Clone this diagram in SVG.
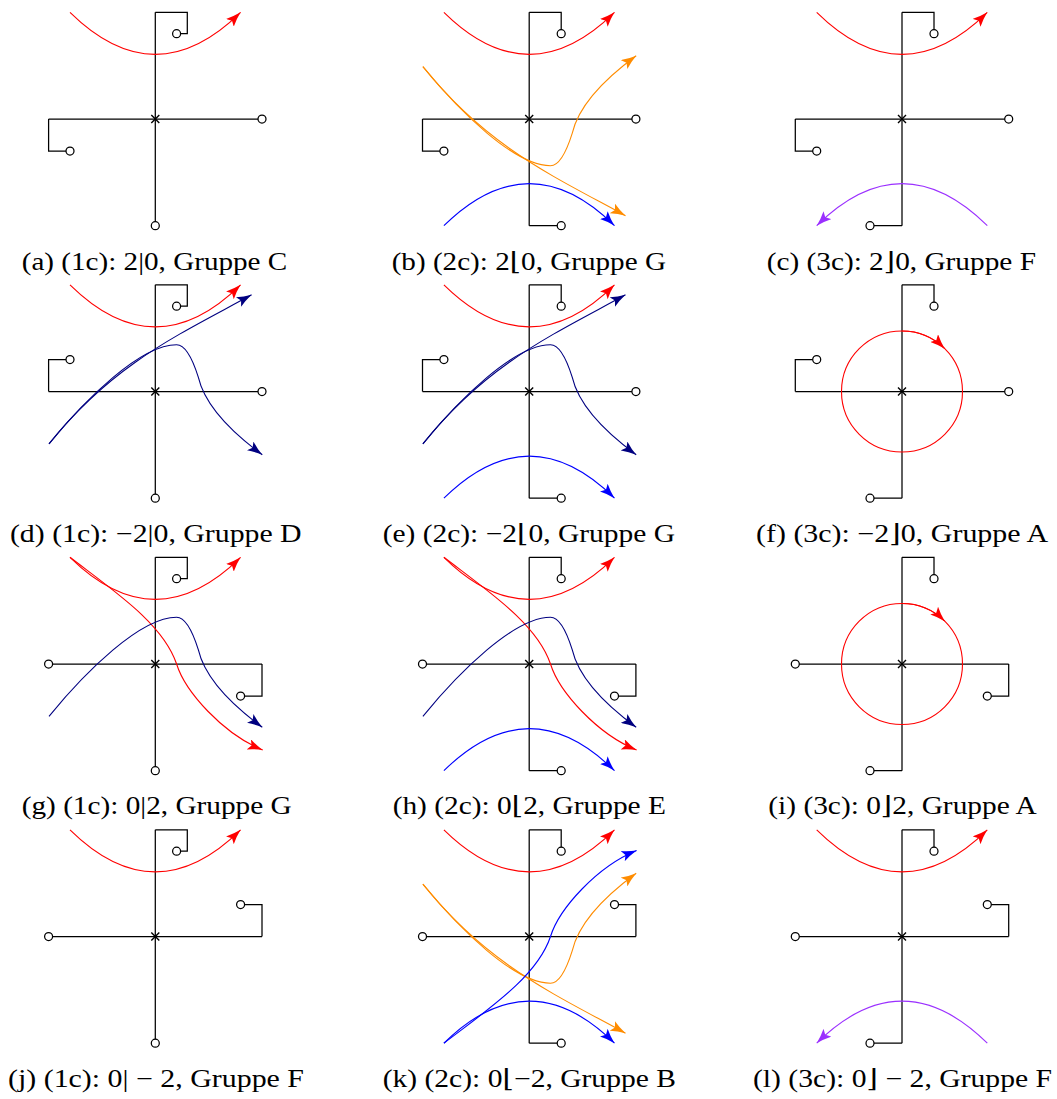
<svg xmlns="http://www.w3.org/2000/svg" xmlns:xlink="http://www.w3.org/1999/xlink" width="1057" height="1099" viewBox="0 0 1057 1099">
<style>
.ax{fill:none;stroke:#000;stroke-width:1.25}
.pt{fill:#fff;stroke:#000;stroke-width:1.25}
.x{fill:none;stroke:#000;stroke-width:1.4}
.cap{font-family:"Liberation Serif","DejaVu Serif",serif;font-size:25px;fill:#000;text-anchor:middle}
</style>
<defs>
<marker id="mR" viewBox="0 0 15 11" refX="15" refY="5.5" markerWidth="15" markerHeight="11" markerUnits="userSpaceOnUse" orient="auto"><path d="M15,5.5 Q7,3.5 0,0 L3,5.5 L0,11 Q7,7.5 15,5.5Z" fill="#ff0000"/></marker>
<marker id="mB" viewBox="0 0 15 11" refX="15" refY="5.5" markerWidth="15" markerHeight="11" markerUnits="userSpaceOnUse" orient="auto"><path d="M15,5.5 Q7,3.5 0,0 L3,5.5 L0,11 Q7,7.5 15,5.5Z" fill="#0000ff"/></marker>
<marker id="mN" viewBox="0 0 15 11" refX="15" refY="5.5" markerWidth="15" markerHeight="11" markerUnits="userSpaceOnUse" orient="auto"><path d="M15,5.5 Q7,3.5 0,0 L3,5.5 L0,11 Q7,7.5 15,5.5Z" fill="#000080"/></marker>
<marker id="mO" viewBox="0 0 15 11" refX="15" refY="5.5" markerWidth="15" markerHeight="11" markerUnits="userSpaceOnUse" orient="auto"><path d="M15,5.5 Q7,3.5 0,0 L3,5.5 L0,11 Q7,7.5 15,5.5Z" fill="#ff8c00"/></marker>
<marker id="mP" viewBox="0 0 15 11" refX="15" refY="5.5" markerWidth="15" markerHeight="11" markerUnits="userSpaceOnUse" orient="auto"><path d="M15,5.5 Q7,3.5 0,0 L3,5.5 L0,11 Q7,7.5 15,5.5Z" fill="#9b30ff"/></marker>
<path id="redPar" d="M-85.3,-106.7 Q0,-22.7 85.3,-106.7" fill="none" stroke="#ff0000" stroke-width="1.1" marker-end="url(#mR)"/>
<path id="bluePar" d="M-85.3,106.7 Q0,22.7 85.3,106.7" fill="none" stroke="#0000ff" stroke-width="1.1" marker-end="url(#mB)"/>
<path id="purPar" d="M85.3,106.7 Q0,22.7 -85.3,106.7" fill="none" stroke="#9b30ff" stroke-width="1.1" marker-end="url(#mP)"/>
<path id="navy1" d="M-106.3,52.3 C-41.3,-28.9 26.3,-58.2 96.3,-96.7" fill="none" stroke="#000080" stroke-width="1.1" marker-end="url(#mN)"/>
<path id="navy2" d="M-106.3,52.3 C-70,8 -15,-46.7 21.3,-46.7 C32,-46.7 39,-27 43,-14.3 C50,16 78,42 107,63.3" fill="none" stroke="#000080" stroke-width="1.1" marker-end="url(#mN)"/>
<path id="or1" d="M-106.3,-52.3 C-41.3,28.9 26.3,58.2 96.3,96.7" fill="none" stroke="#ff8c00" stroke-width="1.1" marker-end="url(#mO)"/>
<path id="or2" d="M-106.3,-52.3 C-70,-8 -15,46.7 21.3,46.7 C32,46.7 39,27 43,14.3 C50,-16 78,-42 107,-63.3" fill="none" stroke="#ff8c00" stroke-width="1.1" marker-end="url(#mO)"/>
<path id="red2" d="M-85.3,-106.7 C-40,-72 8,-40 21.3,0 C30,28 68,70 107.4,86" fill="none" stroke="#ff0000" stroke-width="1.1" marker-end="url(#mR)"/>
<path id="blue2" d="M-85.3,106.7 C-40,72 8,40 21.3,0 C30,-28 68,-70 107.4,-86" fill="none" stroke="#0000ff" stroke-width="1.1" marker-end="url(#mB)"/>
<g id="redCirc"><circle r="60.5" fill="none" stroke="#ff0000" stroke-width="1.1"/><path d="M0,-60.5 A60.5,60.5 0 0 1 42.78,-42.78" fill="none" stroke="#ff0000" stroke-width="1.1" marker-end="url(#mR)"/></g>
<path id="cross" d="M-4,-4L4,4M-4,4L4,-4"/>
</defs>

<!-- (a) -->
<g id="panel-a" transform="translate(155.3,119)">
<path class="ax" d="M-106.7,0H106.7M0,-106.7V106.7M0,-106.7H32V-85.3H21.3M-106.7,0V32H-85.3"/>
<g id="conn-a"><use xlink:href="#redPar"/></g>
<use class="x" xlink:href="#cross"/>
<circle class="pt" cx="21.3" cy="-85.3" r="4"/><circle class="pt" cx="-85.3" cy="32" r="4"/><circle class="pt" cx="106.7" cy="0" r="4"/><circle class="pt" cx="0" cy="106.7" r="4"/>
</g>
<!-- (b) -->
<g id="panel-b" transform="translate(529.2,119)">
<path class="ax" d="M-106.7,0H106.7M0,-106.7V106.7M0,-106.7H32V-85.3M-106.7,0V32H-85.3M0,106.7H32"/>
<g id="conn-b"><use xlink:href="#redPar"/><use xlink:href="#or1"/><use xlink:href="#or2"/><use xlink:href="#bluePar"/></g>
<use class="x" xlink:href="#cross"/>
<circle class="pt" cx="32" cy="-85.3" r="4"/><circle class="pt" cx="-85.3" cy="32" r="4"/><circle class="pt" cx="106.7" cy="0" r="4"/><circle class="pt" cx="32" cy="106.7" r="4"/>
</g>
<!-- (c) -->
<g id="panel-c" transform="translate(902,119)">
<path class="ax" d="M-106.7,0H106.7M0,-106.7V106.7M0,-106.7H32V-85.3M-106.7,0V32H-85.3M0,106.7H-32"/>
<g id="conn-c"><use xlink:href="#redPar"/><use xlink:href="#purPar"/></g>
<use class="x" xlink:href="#cross"/>
<circle class="pt" cx="32" cy="-85.3" r="4"/><circle class="pt" cx="-85.3" cy="32" r="4"/><circle class="pt" cx="106.7" cy="0" r="4"/><circle class="pt" cx="-32" cy="106.7" r="4"/>
</g>
<!-- (d) -->
<g id="panel-d" transform="translate(155.3,391.5)">
<path class="ax" d="M-106.7,0H106.7M0,-106.7V106.7M0,-106.7H32V-85.3H21.3M-106.7,0V-32H-85.3"/>
<g id="conn-d"><use xlink:href="#redPar"/><use xlink:href="#navy1"/><use xlink:href="#navy2"/></g>
<use class="x" xlink:href="#cross"/>
<circle class="pt" cx="21.3" cy="-85.3" r="4"/><circle class="pt" cx="-85.3" cy="-32" r="4"/><circle class="pt" cx="106.7" cy="0" r="4"/><circle class="pt" cx="0" cy="106.7" r="4"/>
</g>
<!-- (e) -->
<g id="panel-e" transform="translate(529.2,391.5)">
<path class="ax" d="M-106.7,0H106.7M0,-106.7V106.7M0,-106.7H32V-85.3M-106.7,0V-32H-85.3M0,106.7H32"/>
<g id="conn-e"><use xlink:href="#redPar"/><use xlink:href="#navy1"/><use xlink:href="#navy2"/><use xlink:href="#bluePar"/></g>
<use class="x" xlink:href="#cross"/>
<circle class="pt" cx="32" cy="-85.3" r="4"/><circle class="pt" cx="-85.3" cy="-32" r="4"/><circle class="pt" cx="106.7" cy="0" r="4"/><circle class="pt" cx="32" cy="106.7" r="4"/>
</g>
<!-- (f) -->
<g id="panel-f" transform="translate(902,391.5)">
<path class="ax" d="M-106.7,0H106.7M0,-106.7V106.7M0,-106.7H32V-85.3M-106.7,0V-32H-85.3M0,106.7H-32"/>
<g id="conn-f"><use xlink:href="#redCirc"/></g>
<use class="x" xlink:href="#cross"/>
<circle class="pt" cx="32" cy="-85.3" r="4"/><circle class="pt" cx="-85.3" cy="-32" r="4"/><circle class="pt" cx="106.7" cy="0" r="4"/><circle class="pt" cx="-32" cy="106.7" r="4"/>
</g>
<!-- (g) -->
<g id="panel-g" transform="translate(155.3,664)">
<path class="ax" d="M-106.7,0H106.7M0,-106.7V106.7M0,-106.7H32V-85.3H21.3M106.7,0V32H85.3"/>
<g id="conn-g"><use xlink:href="#redPar"/><use xlink:href="#red2"/><use xlink:href="#navy2"/></g>
<use class="x" xlink:href="#cross"/>
<circle class="pt" cx="21.3" cy="-85.3" r="4"/><circle class="pt" cx="-106.7" cy="0" r="4"/><circle class="pt" cx="85.3" cy="32" r="4"/><circle class="pt" cx="0" cy="106.7" r="4"/>
</g>
<!-- (h) -->
<g id="panel-h" transform="translate(529.2,664)">
<path class="ax" d="M-106.7,0H106.7M0,-106.7V106.7M0,-106.7H32V-85.3M106.7,0V32H85.3M0,106.7H32"/>
<g id="conn-h"><use xlink:href="#redPar"/><use xlink:href="#red2"/><use xlink:href="#navy2"/><use xlink:href="#bluePar"/></g>
<use class="x" xlink:href="#cross"/>
<circle class="pt" cx="32" cy="-85.3" r="4"/><circle class="pt" cx="-106.7" cy="0" r="4"/><circle class="pt" cx="85.3" cy="32" r="4"/><circle class="pt" cx="32" cy="106.7" r="4"/>
</g>
<!-- (i) -->
<g id="panel-i" transform="translate(902,664)">
<path class="ax" d="M-106.7,0H106.7M0,-106.7V106.7M0,-106.7H32V-85.3M106.7,0V32H85.3M0,106.7H-32"/>
<g id="conn-i"><use xlink:href="#redCirc"/></g>
<use class="x" xlink:href="#cross"/>
<circle class="pt" cx="32" cy="-85.3" r="4"/><circle class="pt" cx="-106.7" cy="0" r="4"/><circle class="pt" cx="85.3" cy="32" r="4"/><circle class="pt" cx="-32" cy="106.7" r="4"/>
</g>
<!-- (j) -->
<g id="panel-j" transform="translate(155.3,936.5)">
<path class="ax" d="M-106.7,0H106.7M0,-106.7V106.7M0,-106.7H32V-85.3H21.3M106.7,0V-32H85.3"/>
<g id="conn-j"><use xlink:href="#redPar"/></g>
<use class="x" xlink:href="#cross"/>
<circle class="pt" cx="21.3" cy="-85.3" r="4"/><circle class="pt" cx="-106.7" cy="0" r="4"/><circle class="pt" cx="85.3" cy="-32" r="4"/><circle class="pt" cx="0" cy="106.7" r="4"/>
</g>
<!-- (k) -->
<g id="panel-k" transform="translate(529.2,936.5)">
<path class="ax" d="M-106.7,0H106.7M0,-106.7V106.7M0,-106.7H32V-85.3M106.7,0V-32H85.3M0,106.7H32"/>
<g id="conn-k"><use xlink:href="#redPar"/><use xlink:href="#or1"/><use xlink:href="#or2"/><use xlink:href="#bluePar"/><use xlink:href="#blue2"/></g>
<use class="x" xlink:href="#cross"/>
<circle class="pt" cx="32" cy="-85.3" r="4"/><circle class="pt" cx="-106.7" cy="0" r="4"/><circle class="pt" cx="85.3" cy="-32" r="4"/><circle class="pt" cx="32" cy="106.7" r="4"/>
</g>
<!-- (l) -->
<g id="panel-l" transform="translate(902,936.5)">
<path class="ax" d="M-106.7,0H106.7M0,-106.7V106.7M0,-106.7H32V-85.3M106.7,0V-32H85.3M0,106.7H-32"/>
<g id="conn-l"><use xlink:href="#redPar"/><use xlink:href="#purPar"/></g>
<use class="x" xlink:href="#cross"/>
<circle class="pt" cx="32" cy="-85.3" r="4"/><circle class="pt" cx="-106.7" cy="0" r="4"/><circle class="pt" cx="85.3" cy="-32" r="4"/><circle class="pt" cx="-32" cy="106.7" r="4"/>
</g>

<g id="captions">
<text class="cap" x="154.5" y="270" textLength="265.6" lengthAdjust="spacingAndGlyphs">(a) (1c): 2|0, Gruppe C</text>
<text class="cap" x="528.8" y="270" textLength="274.3" lengthAdjust="spacingAndGlyphs">(b) (2c): 2⌊0, Gruppe G</text>
<text class="cap" x="901.3" y="270" textLength="269.3" lengthAdjust="spacingAndGlyphs">(c) (3c): 2⌋0, Gruppe F</text>
<text class="cap" x="155.8" y="541.5" textLength="291.7" lengthAdjust="spacingAndGlyphs">(d) (1c): −2|0, Gruppe D</text>
<text class="cap" x="528.8" y="541.5" textLength="292.3" lengthAdjust="spacingAndGlyphs">(e) (2c): −2⌊0, Gruppe G</text>
<text class="cap" x="902" y="541.5" textLength="292" lengthAdjust="spacingAndGlyphs">(f) (3c): −2⌋0, Gruppe A</text>
<text class="cap" x="156.7" y="814" textLength="270" lengthAdjust="spacingAndGlyphs">(g) (1c): 0|2, Gruppe G</text>
<text class="cap" x="529.3" y="814" textLength="273.3" lengthAdjust="spacingAndGlyphs">(h) (2c): 0⌊2, Gruppe E</text>
<text class="cap" x="902.5" y="814" textLength="268.3" lengthAdjust="spacingAndGlyphs">(i) (3c): 0⌋2, Gruppe A</text>
<text class="cap" x="156" y="1086.5" textLength="296" lengthAdjust="spacingAndGlyphs">(j) (1c): 0| − 2, Gruppe F</text>
<text class="cap" x="529.3" y="1086.5" textLength="293.3" lengthAdjust="spacingAndGlyphs">(k) (2c): 0⌊−2, Gruppe B</text>
<text class="cap" x="902.5" y="1086.5" textLength="299" lengthAdjust="spacingAndGlyphs">(l) (3c): 0⌋ − 2, Gruppe F</text>
</g>
</svg>
